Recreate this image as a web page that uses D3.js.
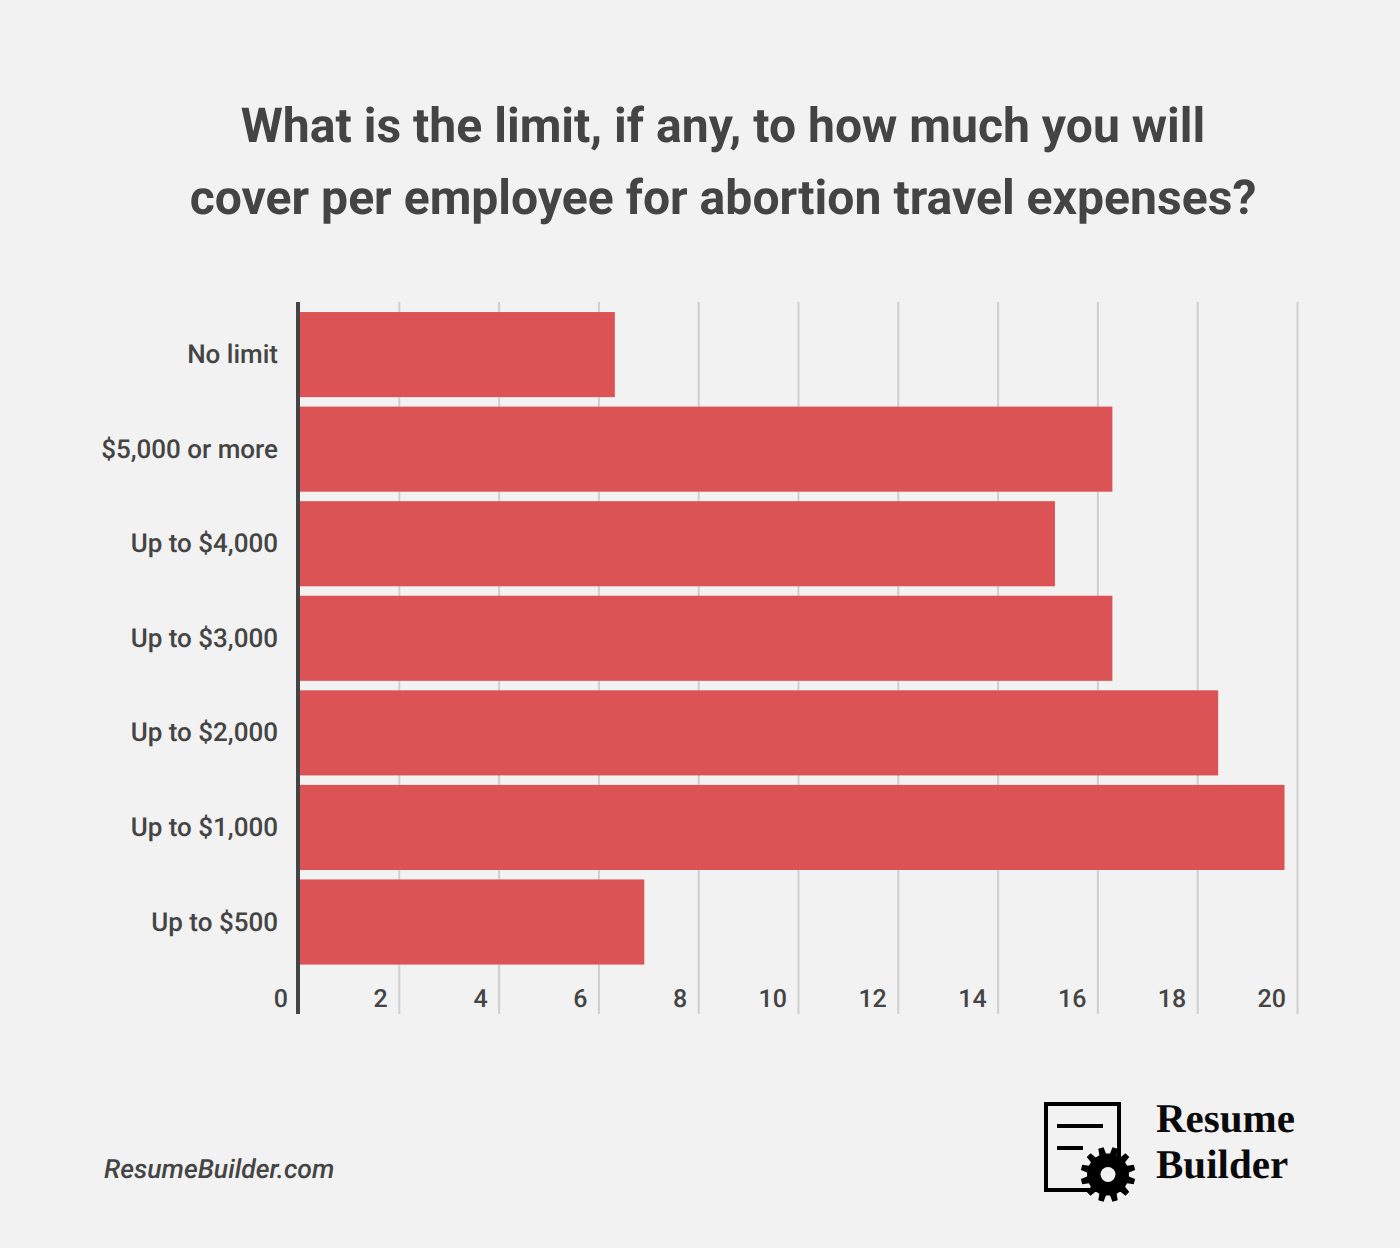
<!DOCTYPE html>
<html>
<head>
<meta charset="utf-8">
<script src="https://cdn.jsdelivr.net/npm/d3@7/dist/d3.min.js"></script>
<style>
html,body{margin:0;padding:0;background:#f2f2f2;}
svg{display:block;}
text{font-family:Roboto,sans-serif;text-rendering:geometricPrecision;}
</style>
</head>
<body>
<svg id="chart" width="1400" height="1248"></svg>
<script>
// Survey responses: share of companies by per-employee travel expense limit
const categories = ["No limit","$5,000 or more","Up to $4,000","Up to $3,000","Up to $2,000","Up to $1,000","Up to $500"];
const values = [6.33,16.3,15.15,16.3,18.42,19.75,6.92];
const xTicks = [0,2,4,6,8,10,12,14,16,18,20];
const titleLines = ["What is the limit, if any, to how much you will","cover per employee for abortion travel expenses?"];

const ink = "#444444", barFill = "#dc5356", gridInk = "#cfcfcf";
const svg = d3.select("#chart");
svg.append("rect").attr("width",1400).attr("height",1248).attr("fill","#f2f2f2");

const x = d3.scaleLinear().domain([0,20]).range([299,1297]);
const y = d3.scaleBand().domain(categories).range([307.3,969.3]).paddingInner(0.1).paddingOuter(0.05);

// Title
svg.selectAll("text.title").data(titleLines).join("text")
  .attr("class","title").attr("x",723).attr("y",(d,i)=>142+i*72)
  .attr("text-anchor","middle").attr("font-size",48.1).attr("font-weight",700)
  .attr("fill",ink).text(d=>d);

// Vertical gridlines, drawn through the axis tick generator
const axis = svg.append("g").attr("transform","translate(0,1014)")
  .call(d3.axisBottom(x).tickValues(xTicks.slice(1)).tickSize(-712).tickFormat(""));
axis.select(".domain").remove();
axis.selectAll(".tick line").attr("stroke",gridInk).attr("stroke-width",2);

// Bars
svg.selectAll("rect.bar").data(values).join("rect")
  .attr("class","bar").attr("x",x(0)).attr("y",(d,i)=>y(categories[i]))
  .attr("width",d=>x(d)-x(0)).attr("height",y.bandwidth()).attr("fill",barFill);

// Baseline
svg.append("line").attr("x1",298).attr("x2",298).attr("y1",302).attr("y2",1014)
  .attr("stroke",ink).attr("stroke-width",4);

// Category labels
svg.selectAll("text.cat").data(categories).join("text")
  .attr("class","cat").attr("x",278).attr("y",d=>y(d)+y.bandwidth()/2+8.5)
  .attr("text-anchor","end").attr("font-size",26).attr("font-weight",500)
  .attr("fill",ink).text(d=>d);

// Value labels sit left of each gridline
svg.selectAll("text.tick").data(xTicks).join("text")
  .attr("class","tick").attr("x",d=>x(d)-11).attr("y",1007)
  .attr("text-anchor","end").attr("font-size",25).attr("font-weight",500)
  .attr("fill",ink).text(d=>d);

// Source line
svg.append("text").attr("x",104).attr("y",1178).attr("font-size",26.5)
  .attr("font-style","italic").attr("font-weight",500).attr("fill",ink).text("ResumeBuilder.com");

// Logo: document outline with text strokes and a gear
const logo = svg.append("g");
logo.append("rect").attr("x",1046).attr("y",1104).attr("width",73).attr("height",86)
  .attr("fill","none").attr("stroke","#000").attr("stroke-width",4);
logo.append("rect").attr("x",1057).attr("y",1124).attr("width",46).attr("height",4).attr("fill","#000");
logo.append("rect").attr("x",1057).attr("y",1146).attr("width",26).attr("height",4).attr("fill","#000");
const teeth = 12, gearPts = [];
for (let i=0;i<teeth;i++){
  const a = (i+0.5)/teeth*2*Math.PI, w = Math.PI/teeth;
  gearPts.push([a-w*0.62,21],[a-w*0.38,27.5],[a+w*0.38,27.5],[a+w*0.62,21]);
}
logo.append("path").attr("transform","translate(1108,1174.5)")
  .attr("d",d3.lineRadial().curve(d3.curveLinearClosed)(gearPts)).attr("fill","#000");
logo.append("circle").attr("cx",1108).attr("cy",1174.5).attr("r",7.5).attr("fill","#f2f2f2");
logo.selectAll("text").data(["Resume","Builder"]).join("text")
  .attr("x",1156).attr("y",(d,i)=>1132+i*46)
  .style("font-family","'Liberation Serif',serif").attr("font-weight",700)
  .attr("font-size",41).attr("fill","#0a0a0a").text(d=>d);
</script>
</body>
</html>
